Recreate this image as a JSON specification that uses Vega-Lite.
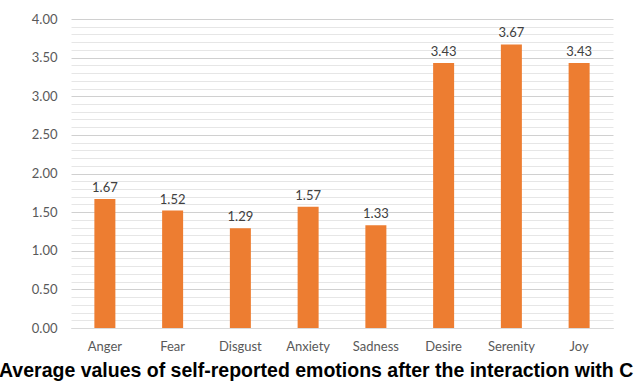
{
  "$schema": "https://vega.github.io/schema/vega-lite/v6.json",
  "autosize": {"type": "none"},
  "width": 542,
  "height": 309,
  "padding": {"left": 71, "top": 19, "right": 27, "bottom": 56},
  "background": "white",
  "title": {
    "text": "Average values of self-reported emotions after the interaction with C",
    "orient": "bottom",
    "anchor": "start",
    "frame": "group",
    "dx": -72,
    "offset": 9,
    "font": "Liberation Sans",
    "fontSize": 19.5,
    "fontWeight": "bold",
    "color": "#000000"
  },
  "data": {
    "values": [
      {"emotion": "Anger", "value": 1.67},
      {"emotion": "Fear", "value": 1.52},
      {"emotion": "Disgust", "value": 1.29},
      {"emotion": "Anxiety", "value": 1.57},
      {"emotion": "Sadness", "value": 1.33},
      {"emotion": "Desire", "value": 3.43},
      {"emotion": "Serenity", "value": 3.67},
      {"emotion": "Joy", "value": 3.43}
    ]
  },
  "encoding": {
    "x": {
      "field": "emotion",
      "type": "nominal",
      "sort": null,
      "scale": {"paddingInner": 0.69, "paddingOuter": 0.345},
      "axis": {
        "title": null,
        "labelAngle": 0,
        "ticks": false,
        "domainColor": "#D9D9D9",
        "labelFont": "Lato",
        "labelFontSize": 13,
        "labelColor": "#595959",
        "labelPadding": 12
      }
    },
    "y": {
      "field": "value",
      "type": "quantitative",
      "scale": {"domain": [0, 4], "nice": false},
      "axis": {
        "title": null,
        "values": [0,0.1,0.2,0.3,0.4,0.5,0.6,0.7,0.8,0.9,1,1.1,1.2,1.3,1.4,1.5,1.6,1.7,1.8,1.9,2,2.1,2.2,2.3,2.4,2.5,2.6,2.7,2.8,2.9,3,3.1,3.2,3.3,3.4,3.5,3.6,3.7,3.8,3.9,4],
        "labelExpr": "abs(datum.value*2 - round(datum.value*2)) < 0.001 ? format(datum.value, '.2f') : ''",
        "ticks": false,
        "domain": false,
        "gridColor": {"condition": {"test": "abs(datum.value*2 - round(datum.value*2)) < 0.001", "value": "#D0D0D0"}, "value": "#E6E6E6"},
        "labelFont": "Lato",
        "labelFontSize": 13,
        "labelColor": "#595959",
        "labelPadding": 14
      }
    }
  },
  "layer": [
    {"mark": {"type": "bar", "color": "#ED7D31"}},
    {
      "mark": {"type": "text", "dy": -11, "font": "Lato", "fontSize": 13, "color": "#404040"},
      "encoding": {"text": {"field": "value", "type": "quantitative", "format": ".2f"}}
    }
  ],
  "config": {"view": {"stroke": null}}
}
